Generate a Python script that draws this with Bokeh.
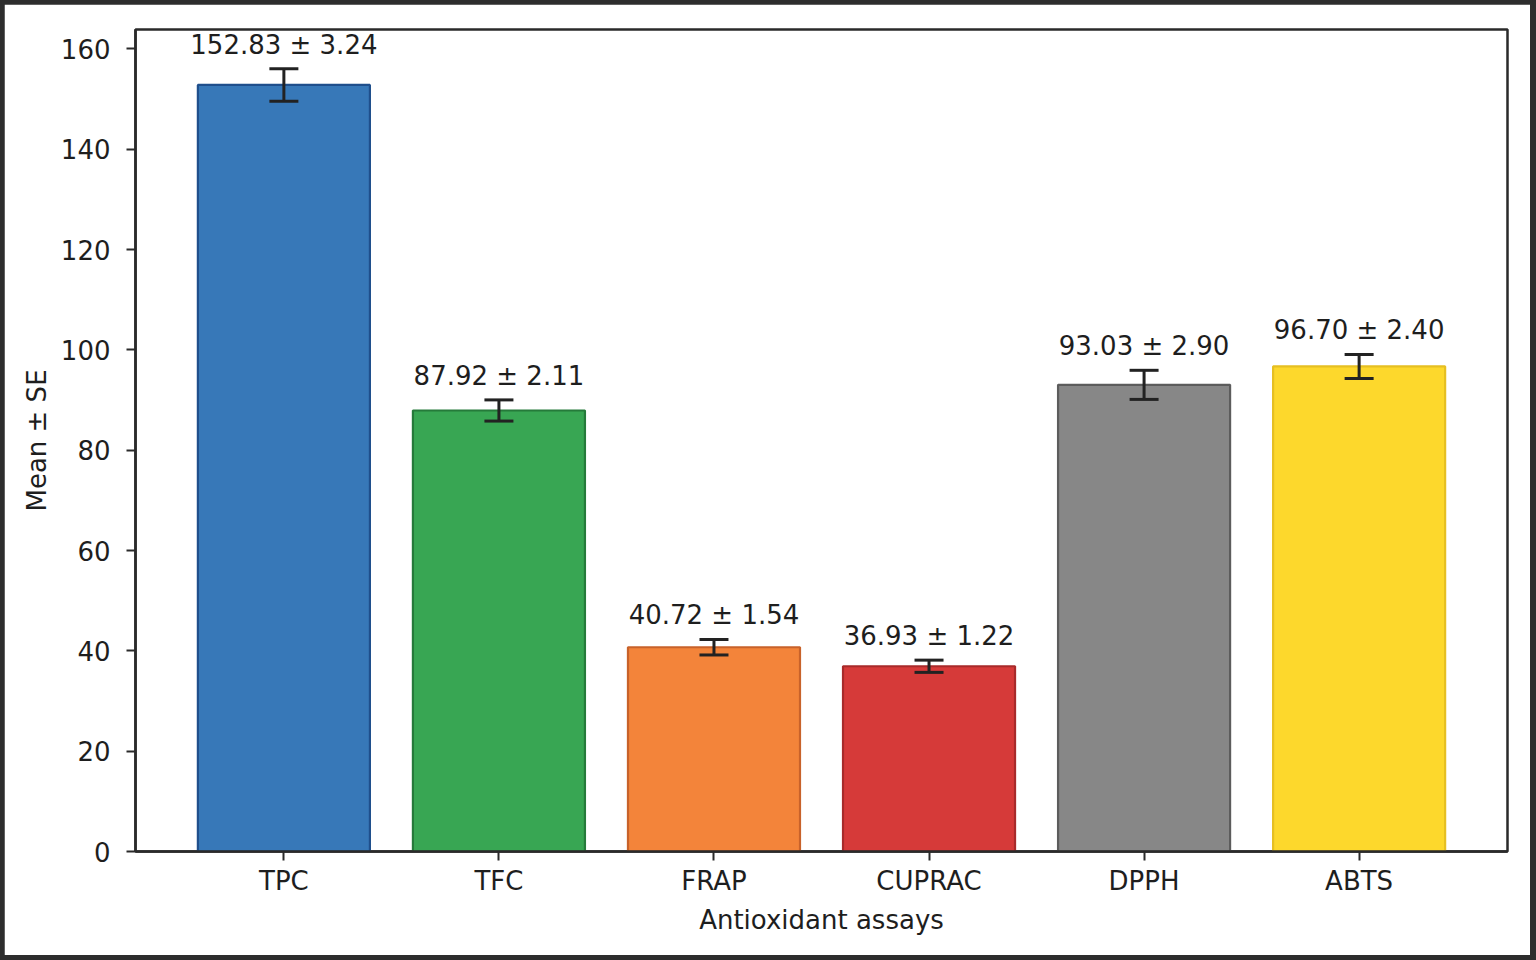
from bokeh.plotting import figure
from bokeh.models import ColumnDataSource, Whisker, FactorRange, Range1d, FixedTicker, TeeHead, GlobalInlineStyleSheet
from bokeh.embed import file_html
from bokeh.resources import INLINE
from bokeh.core.properties import value

# ---- data ----
assays = ["TPC", "TFC", "FRAP", "CUPRAC", "DPPH", "ABTS"]
means = [152.83, 87.92, 40.72, 36.93, 93.03, 96.70]
ses = [3.24, 2.11, 1.54, 1.22, 2.90, 2.40]
fill_colors = ["#3778b8", "#38a653", "#f3843a", "#d63a39", "#878787", "#fdd82c"]
edge_colors = ["#1f4f8c", "#257a3a", "#c8622a", "#a82a2a", "#5c5c5c", "#e6bf22"]
y_ticks = [0, 20, 40, 60, 80, 100, 120, 140, 160]

# ---- derived ----
upper = [m + s for m, s in zip(means, ses)]
lower = [m - s for m, s in zip(means, ses)]
labels = [f"{m:.2f} \u00b1 {s:.2f}" for m, s in zip(means, ses)]
label_offset = 4.8
label_y = [u + label_offset for u in upper]
y_top = max(upper) * 1.05

src = ColumnDataSource(dict(x=assays, top=means, upper=upper, lower=lower,
                            fill=fill_colors, edge=edge_colors,
                            label=labels, label_y=label_y))

FONT = "DejaVu Sans"
TXT = "#1e1e1e"

p = figure(x_range=FactorRange(factors=assays, range_padding=0.38 / 6),
           y_range=Range1d(0, y_top),
           width=1526, height=951,
           frame_width=1372, frame_height=822,
           min_border_left=131, min_border_right=23, min_border_top=25, min_border_bottom=104,
           output_backend="svg", toolbar_location=None)

p.vbar(x="x", top="top", bottom=0, width=0.8, source=src,
       fill_color="fill", line_color="edge", line_width=2.2)

p.add_layout(Whisker(source=src, base="x", upper="upper", lower="lower",
                     level="overlay",
                     line_color="#222222", line_width=3,
                     upper_head=TeeHead(size=29, line_color="#222222", line_width=3),
                     lower_head=TeeHead(size=29, line_color="#222222", line_width=3)))

p.text(x="x", y="label_y", text="label", source=src,
       text_align="center", text_baseline="alphabetic",
       text_font=value(FONT), text_font_size="26px", text_color=TXT)

p.xgrid.visible = False
p.ygrid.visible = False
p.background_fill_color = "white"
p.border_fill_color = "white"
p.outline_line_color = "#2a2a2a"
p.outline_line_width = 2.5
p.outline_line_alpha = 1.0

p.yaxis.ticker = FixedTicker(ticks=y_ticks)
p.yaxis.minor_tick_line_color = None

for ax in (p.xaxis[0], p.yaxis[0]):
    ax.axis_line_color = "#2a2a2a"
    ax.axis_line_width = 2.5
    ax.major_tick_line_color = "#2a2a2a"
    ax.major_tick_line_width = 2
    ax.major_tick_out = 9
    ax.major_tick_in = 0
    ax.major_label_text_font = FONT
    ax.major_label_text_font_size = "26px"
    ax.major_label_text_color = TXT
    ax.axis_label_text_font = FONT
    ax.axis_label_text_font_size = "26px"
    ax.axis_label_text_font_style = "normal"
    ax.axis_label_text_color = TXT

p.xaxis.axis_label = "Antioxidant assays"
p.yaxis.axis_label = "Mean \u00b1 SE"
p.xaxis.major_label_standoff = 5
p.xaxis.axis_label_standoff = 6
p.yaxis.major_label_standoff = 16
p.yaxis.axis_label_standoff = 6

p.stylesheets.append(GlobalInlineStyleSheet(
    css="html, body { background-color: #2d2d2d; margin: 0; padding: 0; } body { padding: 4px; }"))

open("out.html", "w").write(file_html(p, INLINE))
